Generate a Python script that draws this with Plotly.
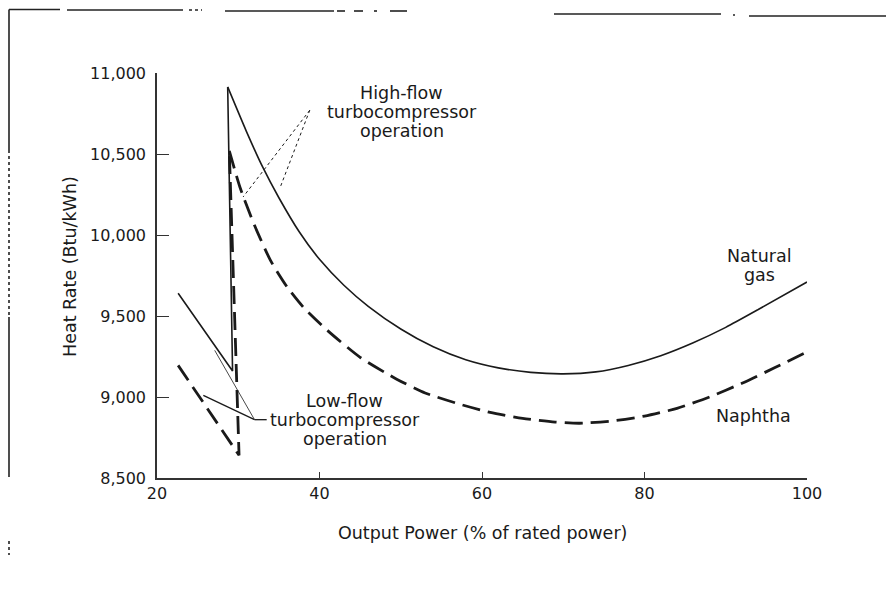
import plotly.graph_objects as go

# Heat rate (Btu/kWh) against output power (% of rated power)
# Natural gas: low-flow branch, jump, then high-flow branch
gas_low_x = [22.6, 29.3, 28.7]
gas_low_y = [9640, 9160, 10914]
gas_high_x = [28.7, 31, 33, 35, 37.5, 40, 43, 46, 50, 54, 58, 62, 66, 70, 74, 78, 82, 86, 90, 94, 100]
gas_high_y = [10914, 10640, 10420, 10230, 10020, 9850, 9690, 9560, 9420, 9310, 9230, 9180,
              9152, 9143, 9155, 9195, 9255, 9335, 9430, 9540, 9710]

# Naphtha: same structure
naph_low_x = [22.6, 30.1, 28.9]
naph_low_y = [9195, 8640, 10520]
naph_high_x = [28.9, 30.2, 32, 34, 36, 38, 41, 45, 49.5, 53, 57.3, 61, 65, 69, 72, 76, 80, 84, 88, 92, 96, 100]
naph_high_y = [10520, 10296, 10060, 9840, 9680, 9555, 9410, 9245, 9110, 9025, 8955, 8905,
               8868, 8845, 8838, 8852, 8882, 8930, 9000, 9085, 9180, 9278]

x_ticks = [20, 40, 60, 80, 100]
x_tick_text = ["20", "40", "60", "80", "100"]
y_ticks = [8500, 9000, 9500, 10000, 10500, 11000]
y_tick_text = ["8,500", "9,000", "9,500", "10,000", "10,500", "11,000"]

FONT = "DejaVu Sans"
INK = "#1a1a1a"
W, H = 889, 590
ML, MR, MT, MB = 157, 82, 73, 112
PW, PH = W - ML - MR, H - MT - MB
X0, X1, Y0, Y1 = 20, 100, 8500, 11000


def px(xp):
    return (xp - ML) / PW


def py(yp):
    return (H - MB - yp) / PH


def dy(pixels):
    # vertical pixel distance expressed in y-axis units
    return pixels * (Y1 - Y0) / PH


fig = go.Figure()

gas_style = dict(color=INK, width=1.6)
naph_style = dict(color=INK, width=2.8, dash="18px,8px")

fig.add_trace(go.Scatter(x=gas_low_x, y=gas_low_y, mode="lines", line=gas_style,
                         name="Natural gas", showlegend=False))
fig.add_trace(go.Scatter(x=gas_high_x, y=gas_high_y, mode="lines",
                         line=dict(gas_style, shape="spline", smoothing=0.6),
                         name="Natural gas", showlegend=False))
fig.add_trace(go.Scatter(x=naph_low_x, y=naph_low_y, mode="lines", line=naph_style,
                         name="Naphtha", showlegend=False))
fig.add_trace(go.Scatter(x=naph_high_x, y=naph_high_y, mode="lines",
                         line=dict(naph_style, shape="spline", smoothing=0.6),
                         name="Naphtha", showlegend=False))

shapes = []
# leader lines for the high-flow label (dotted)
for x1, y1 in [(30.6, 10235), (35.1, 10286)]:
    shapes.append(dict(type="line", xref="x", yref="y", x0=38.8, y0=10770, x1=x1, y1=y1,
                       line=dict(color=INK, width=1, dash="dot")))
# leader lines for the low-flow label
shapes.append(dict(type="line", xref="x", yref="y", x0=27.1, y0=9288, x1=32.0, y1=8860,
                   line=dict(color=INK, width=0.8)))
shapes.append(dict(type="line", xref="x", yref="y", x0=25.7, y0=9010, x1=32.0, y1=8860,
                   line=dict(color=INK, width=1.3)))
shapes.append(dict(type="line", xref="x", yref="y", x0=32.0, y0=8860, x1=33.5, y1=8860,
                   line=dict(color=INK, width=1.3)))

# page border fragments at the top and left
frame = dict(color="#222", width=1.6)
for (xa, ya, xb, yb, d) in [
    (9, 9.5, 9, 150, "solid"), (9, 150, 9, 317, "dot"), (9, 317, 9, 477, "solid"),
    (9, 9.5, 60, 9.5, "solid"), (67, 10, 183, 10, "solid"), (189, 10, 202, 10, "dot"),
    (225, 11, 334, 11, "solid"), (337, 11, 345, 11, "solid"), (354, 11, 363, 11, "solid"),
    (374, 11, 377, 11, "solid"), (390, 11, 407, 11, "solid"),
    (554, 14, 721, 14, "solid"), (733, 15, 735, 15, "solid"), (749, 16, 886, 16, "solid"),
    (9, 541, 9, 555, "dot"),
]:
    shapes.append(dict(type="line", xref="paper", yref="paper",
                       x0=px(xa), y0=py(ya), x1=px(xb), y1=py(yb),
                       line=dict(frame, dash=d)))

label_font = dict(family=FONT, size=17.5, color=INK)
annotations = []


def add_label(lines, x, y_top, pitch=19):
    for i, line in enumerate(lines):
        annotations.append(dict(x=x, y=y_top - dy(pitch * i), xref="x", yref="y", text=line,
                                showarrow=False, xanchor="center", yanchor="middle",
                                font=label_font))


add_label(["High-flow", "turbocompressor", "operation"], 50.1, 10875)
add_label(["Low-flow", "turbocompressor", "operation"], 43.1, 8973)
add_label(["Natural", "gas"], 94.1, 9868)
add_label(["Naphtha"], 93.4, 8881)

annotations.append(dict(x=px(70), y=py(267), xref="paper", yref="paper",
                        text="Heat Rate (Btu/kWh)", textangle=-90, showarrow=False,
                        xanchor="center", yanchor="middle", font=label_font))
annotations.append(dict(x=0.5, y=py(533), xref="paper", yref="paper",
                        text="Output Power (% of rated power)", showarrow=False,
                        xanchor="center", yanchor="middle", font=label_font))

axis_common = dict(showline=True, linecolor="#333", linewidth=1.5, showgrid=False,
                   zeroline=False, ticks="inside", tickcolor="#333", tickwidth=1.3,
                   tickfont=dict(family=FONT, size=16, color=INK))

fig.update_layout(
    width=W, height=H,
    margin=dict(l=ML, r=MR, t=MT, b=MB, pad=0),
    paper_bgcolor="white", plot_bgcolor="white",
    xaxis=dict(axis_common, range=[X0, X1], tickvals=x_ticks, ticktext=x_tick_text,
               ticklen=6),
    yaxis=dict(axis_common, range=[Y0, Y1], tickvals=y_ticks, ticktext=y_tick_text,
               ticklen=12, ticklabelstandoff=6),
    shapes=shapes,
    annotations=annotations,
)

fig.write_html("out.html")
